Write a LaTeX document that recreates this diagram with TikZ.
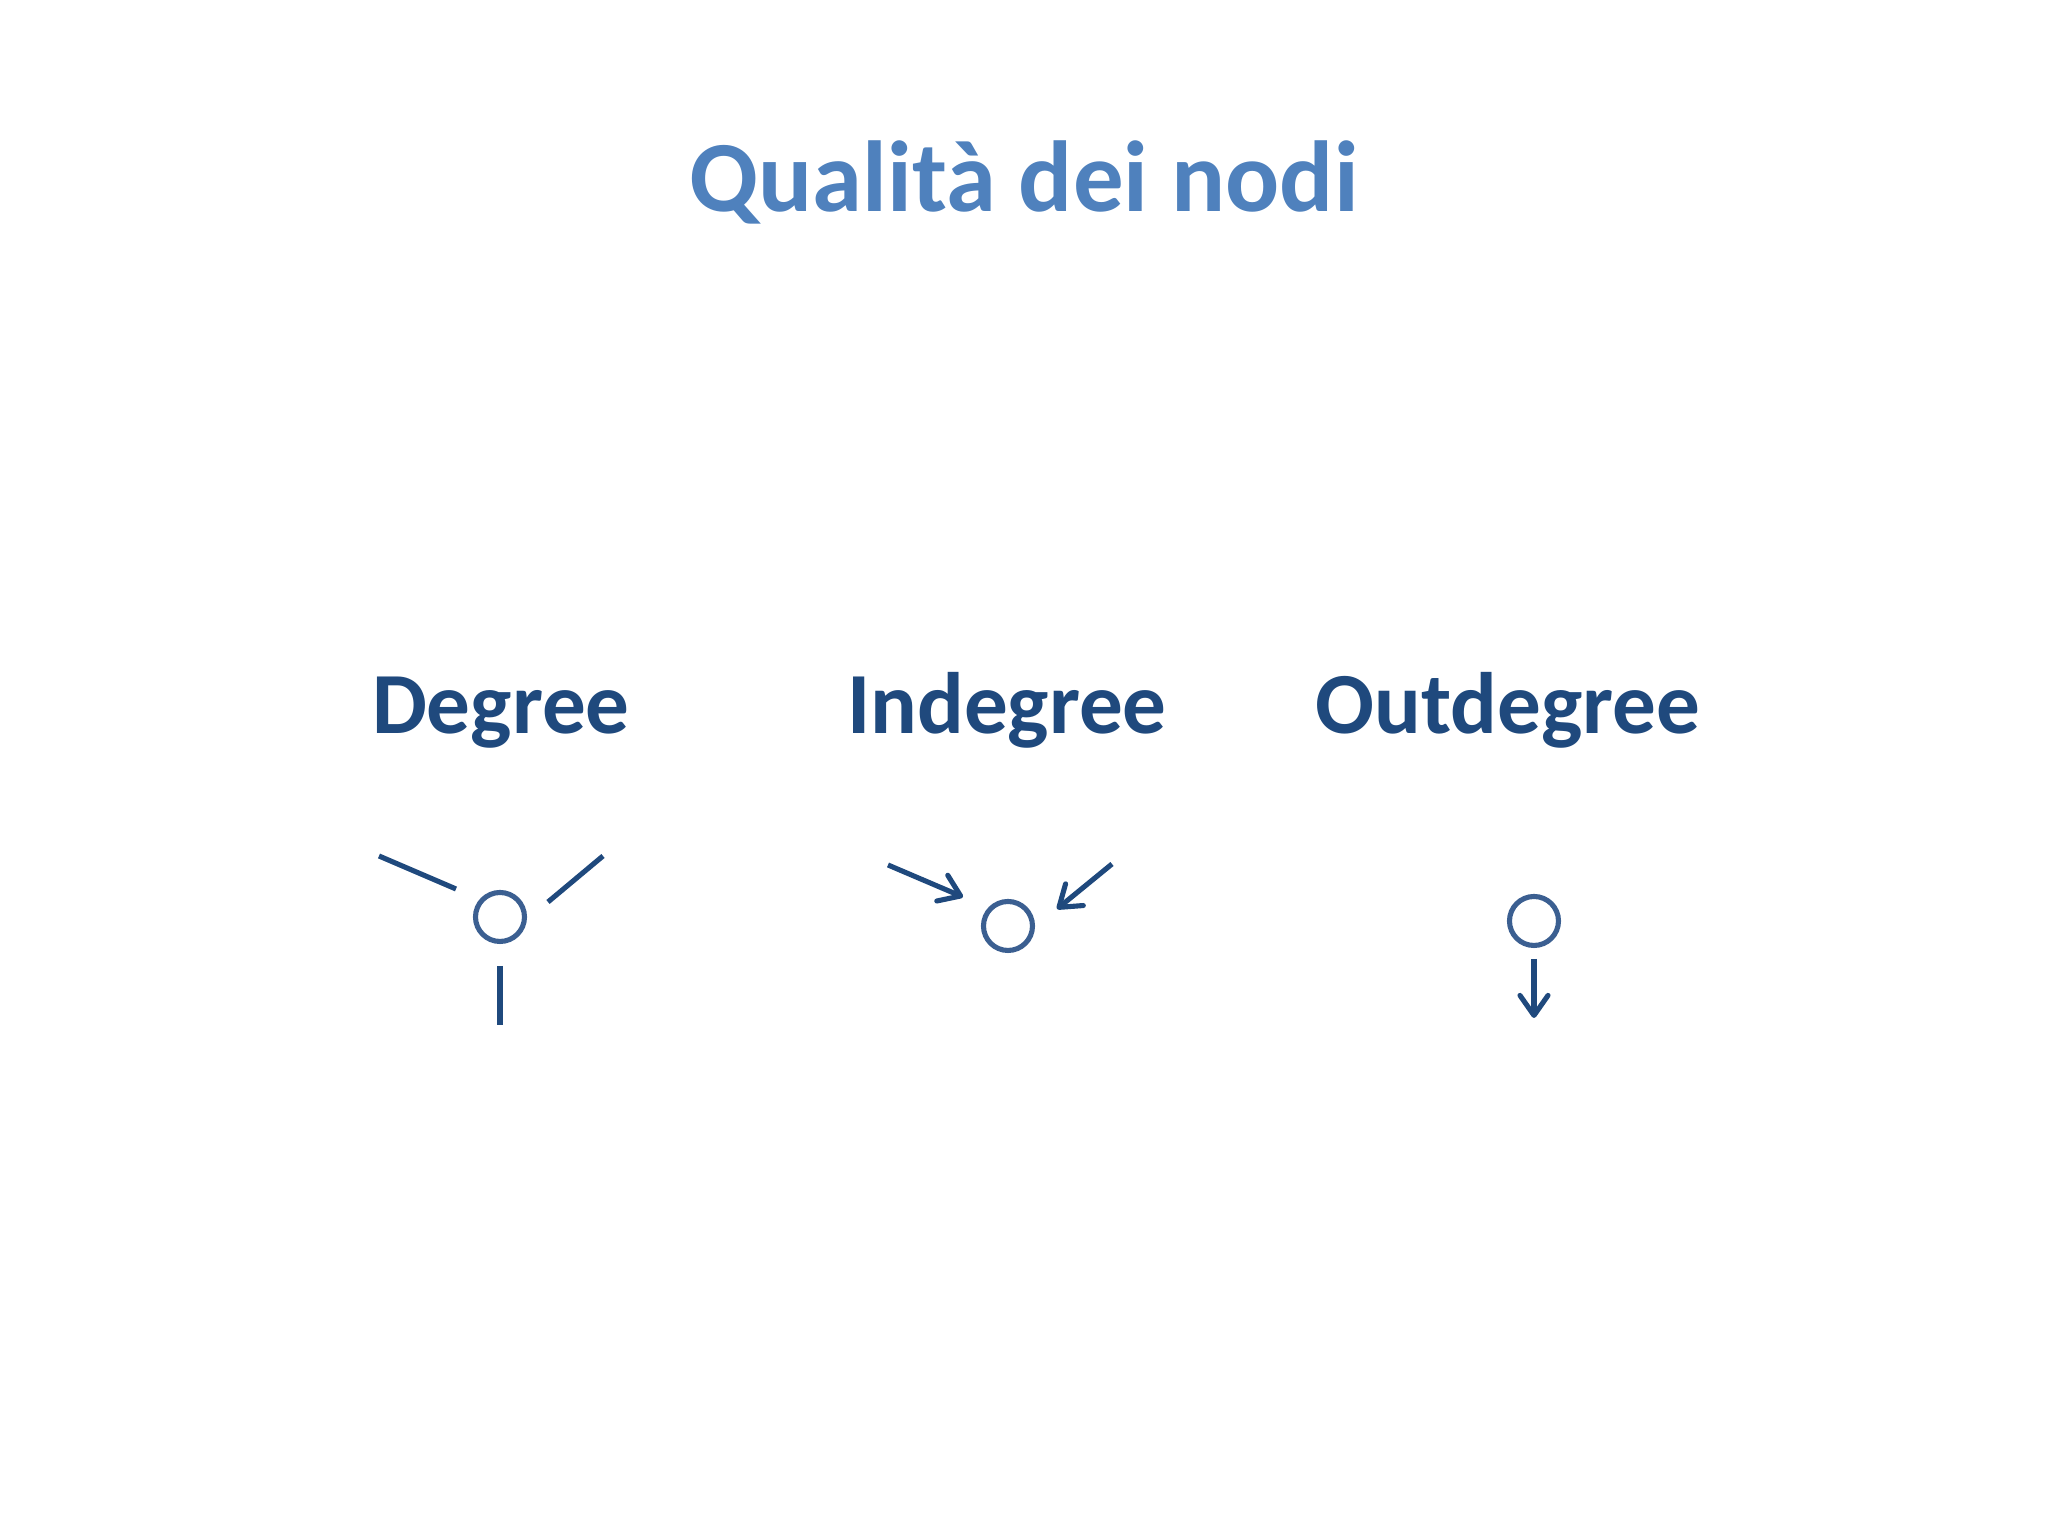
\documentclass[tikz,border=0pt]{standalone}
\usepackage{fontspec}
\setmainfont{Carlito}
\usetikzlibrary{arrows.meta}
\definecolor{titleblue}{RGB}{79,129,189}
\definecolor{darkblue}{RGB}{31,73,125}
\definecolor{ringblue}{RGB}{59,95,145}
\tikzset{
	vertex/.style={circle,draw=ringblue,line width=1.45pt,inner sep=0pt,minimum size=0.49cm},
	edge/.style={draw=darkblue,line width=1.45pt},
	arc/.style={edge,-{Straight Barb[length=2mm,width=2.8mm,round]}},
	heading/.style={anchor=base,inner sep=0pt,text=darkblue,font=\bfseries\fontsize{24.8}{28}\selectfont}
}

\begin{document}
\begin{tikzpicture}
		\useasboundingbox (0,0) rectangle (20.48,15.36);
		\node[anchor=base,inner sep=0pt,text=titleblue,font=\bfseries\fontsize{28.7}{33}\selectfont] (title) at (10.24,13.24) {Qualità dei nodi};
		\node[heading] (degree) at (5.01,8.02) {Degree};
		\node[heading] (indegree) at (10.07,8.02) {Indegree};
		\node[heading] (outdegree) at (15.08,8.02) {Outdegree};
		% degree
		\node[vertex] (deg) at (5.00,6.19) {};
		\coordinate (dl) at (3.79,6.80);
		\coordinate (dl2) at (4.56,6.47);
		\coordinate (dr) at (6.03,6.80);
		\coordinate (dr2) at (5.48,6.34);
		\coordinate (db) at (5.00,5.70);
		\coordinate (db2) at (5.00,5.11);
		\draw[edge] (dl) -- (dl2);
		\draw[edge] (dr) -- (dr2);
		\draw[edge] (db) -- (db2);
		% indegree
		\node[vertex] (indeg) at (10.08,6.10) {};
		\coordinate (il) at (8.88,6.71);
		\coordinate (ir) at (11.12,6.72);
		\draw[arc] (il) -- (9.63,6.39);
		\draw[arc] (ir) -- (10.57,6.27);
		% outdegree
		\node[vertex] (outdeg) at (15.34,6.15) {};
		\coordinate (ob) at (15.34,5.18);
		\draw[arc] (15.34,5.77) -- (ob);
	\end{tikzpicture}
\end{document}
